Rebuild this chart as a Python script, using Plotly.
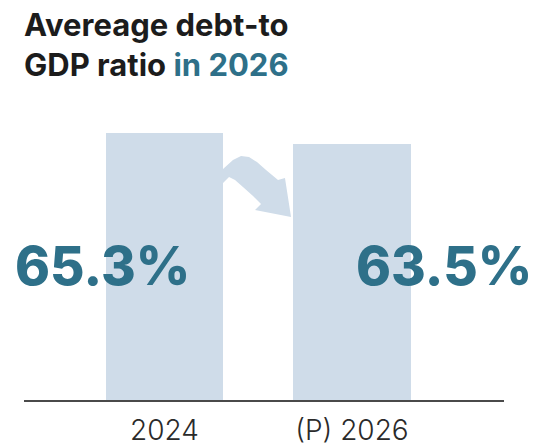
import plotly.graph_objects as go

categories = ["2024", "(P) 2026"]
values = [65.3, 63.5]
value_labels = ["65.3%", "63.5%"]

BAR = "#cfdce9"
TEAL = "#2e7089"
DARK = "#1c1c1c"

W, H = 537, 448
L, R, T, B = 24, 33, 100, 48
PW, PH = W - L - R, H - T - B

def px(x, y):
    return (x - L) / PW, (H - B - y) / PH

xs = list(range(len(categories)))

fig = go.Figure()
fig.add_trace(go.Bar(
    x=xs, y=values, width=0.625, marker=dict(color=BAR, line=dict(width=0)),
    hoverinfo="skip", showlegend=False,
))

# value labels
offsets = [-0.328, 0.49]
for i, (v, lab) in enumerate(zip(values, value_labels)):
    fig.add_annotation(
        x=xs[i] + offsets[i], y=42.7, xref="x", yref="y", text=lab, showarrow=False,
        font=dict(family="Inter", size=53, color=TEAL, weight=800),
        xanchor="center", yanchor="middle",
    )

# curved arrow decoration
pts = [(223, 169), (233, 160), (241, 156), (249, 157), (257, 162), (266, 170), (278, 180),
       (285, 178), (291, 217), (255, 210), (261, 204),
       (253, 196), (243, 187), (235, 180), (229, 177), (223, 183)]
path = "M " + " L ".join("%.4f,%.4f" % px(x, y) for x, y in pts) + " Z"
fig.add_shape(type="path", path=path, xref="paper", yref="paper",
              fillcolor=BAR, line=dict(width=0), layer="below")

# title
fig.add_annotation(
    x=-0.004, y=(H - B - 4) / PH, xref="paper", yref="paper", xanchor="left", yanchor="top",
    align="left", showarrow=False,
    text="<b>Avereage debt-to<br>GDP ratio <span style='color:%s'>in 2026</span></b>" % TEAL,
    font=dict(family="Inter", size=31, color=DARK, weight=800),
)

fig.update_layout(
    width=W, height=H, margin=dict(l=L, r=R, t=T, b=B),
    paper_bgcolor="white", plot_bgcolor="white",
    xaxis=dict(range=[-0.749, 1.811], tickvals=xs, ticktext=categories,
               showgrid=False, zeroline=False, showline=True, linecolor="#4a4a4a",
               linewidth=2, ticks="", ticklabelstandoff=4, automargin=False,
               tickfont=dict(family="Inter", size=28, color="#2a2a2a", weight=300)),
    yaxis=dict(range=[20, 20 + PH / 5.894], visible=False, showgrid=False, zeroline=False),
    bargap=0,
)

fig.write_html("out.html")
